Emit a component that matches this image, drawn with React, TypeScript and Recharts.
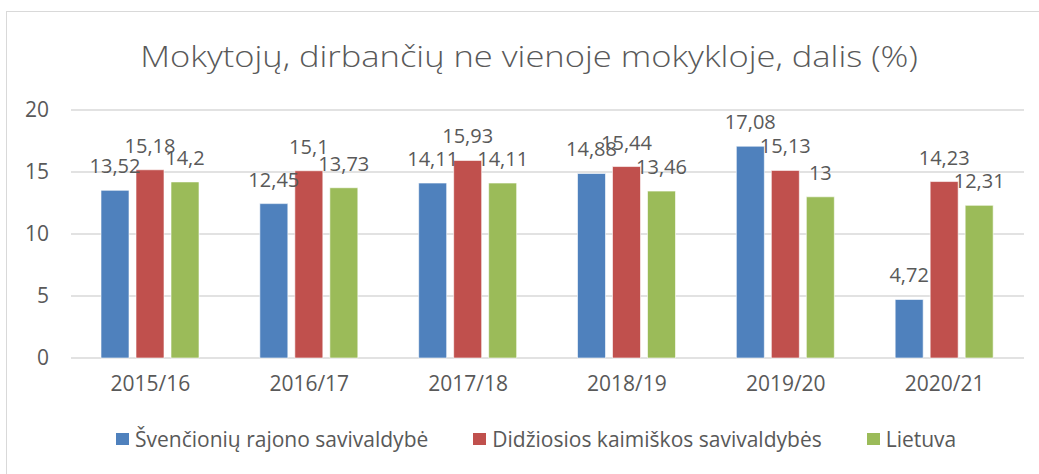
import { BarChart, Bar, CartesianGrid, XAxis, YAxis, LabelList } from 'recharts';

const years = ['2015/16', '2016/17', '2017/18', '2018/19', '2019/20', '2020/21'];
const svencioniu = [13.52, 12.45, 14.11, 14.88, 17.08, 4.72];
const kaimiskos = [15.18, 15.1, 15.93, 15.44, 15.13, 14.23];
const lietuva = [14.2, 13.73, 14.11, 13.46, 13, 12.31];
const yTicks = [0, 5, 10, 15, 20];

const seriesNames = ['Švenčionių rajono savivaldybė', 'Didžiosios kaimiškos savivaldybės', 'Lietuva'];
const seriesKeys = ['a', 'b', 'c'];
const colors = ['#4F81BD', '#C0504D', '#9BBB59'];

const title = 'Mokytojų, dirbančių ne vienoje mokykloje, dalis (%)';
const FONT = '"Open Sans", sans-serif';
const GREY = '#595959';

const data = years.map((y, i) => ({
  year: y,
  a: svencioniu[i],
  b: kaimiskos[i],
  c: lietuva[i],
}));

const fmt = (v: any) => String(v).replace('.', ',');

export default function App() {
  return (
    <div style={{ position: 'absolute', left: 0, top: 0, width: 1039, height: 474, overflow: 'hidden', fontFamily: FONT }}>
      <div
        style={{
          position: 'absolute',
          left: 6,
          top: 11,
          width: 1100,
          height: 500,
          borderTop: '1px solid #D9D9D9',
          borderLeft: '1px solid #D9D9D9',
        }}
      />
      <div
        style={{
          position: 'absolute',
          left: 0,
          top: 35,
          width: 1058,
          textAlign: 'center',
          fontSize: 30,
          color: GREY,
          fontWeight: 300,
          transform: 'scaleX(1.15)',
          transformOrigin: '529px 0',
        }}
      >
        {title}
      </div>
      <div style={{ position: 'absolute', left: 0, top: 0 }}>
        <BarChart
          width={1039}
          height={474}
          data={data}
          margin={{ top: 110, right: 15, bottom: 76, left: 0 }}
          barCategoryGap={30}
          barGap={7}
        >
          <CartesianGrid vertical={false} stroke="#D9D9D9" strokeWidth={1.5} />
          <XAxis
            dataKey="year"
            axisLine={false}
            tickLine={false}
            tickSize={0}
            tickMargin={18}
            tick={{ fill: GREY, fontSize: 21, fontFamily: FONT }}
            height={40}
          />
          <YAxis
            domain={[0, 20]}
            ticks={yTicks}
            axisLine={false}
            tickLine={false}
            tickSize={0}
            tickMargin={22}
            width={71}
            tick={{ fill: GREY, fontSize: 21, fontFamily: FONT }}
          />
          {seriesKeys.map((k, i) => (
            <Bar
              key={k}
              dataKey={k}
              name={seriesNames[i]}
              fill={colors[i]}
              stroke="#ffffff"
              strokeWidth={0.6}
              isAnimationActive={false}
            >
              <LabelList dataKey={k} position="top" offset={17} formatter={fmt} fill={GREY} fontSize={20} fontFamily={FONT} />
            </Bar>
          ))}
        </BarChart>
      </div>
      <div
        style={{
          position: 'absolute',
          left: 116,
          top: 425,
          display: 'flex',
          alignItems: 'center',
          color: GREY,
          fontSize: 21,
          whiteSpace: 'nowrap',
        }}
      >
        {seriesNames.map((n, i) => (
          <div key={n} style={{ display: 'flex', alignItems: 'center', marginRight: 45 }}>
            <span style={{ display: 'inline-block', width: 13, height: 12, background: colors[i], marginRight: 6 }} />
            <span>{n}</span>
          </div>
        ))}
      </div>
    </div>
  );
}
